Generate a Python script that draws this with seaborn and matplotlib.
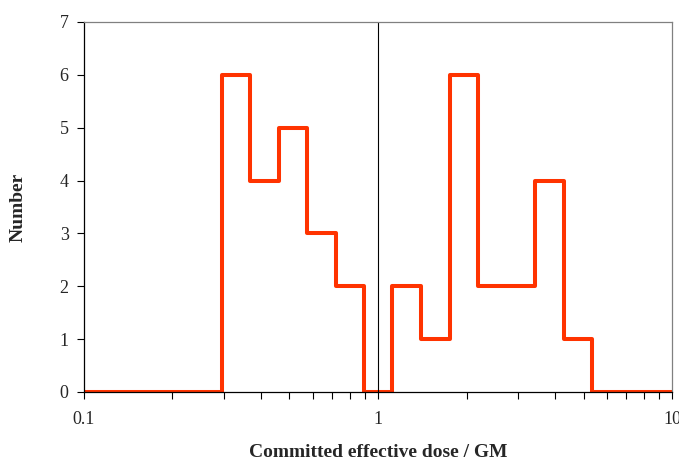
import numpy as np
import matplotlib.pyplot as plt
import matplotlib.ticker as mticker
import seaborn as sns

# bin edges (dose / GM) and counts
edges = [0.2945, 0.368, 0.46, 0.575, 0.719, 0.899, 1.12, 1.40, 1.755, 2.19, 2.74, 3.43, 4.28, 5.35]
counts = [6, 4, 5, 3, 2, 0, 2, 1, 6, 2, 2, 4, 1]
x_min, x_max = 0.1, 10

x_step = [x_min] + edges + [x_max]
y_step = [0] + counts + [0, 0]

sns.set_style("white")
plt.rcParams['font.family'] = ['Liberation Serif', 'DejaVu Serif']

fig = plt.figure(figsize=(6.79, 4.61), dpi=100)
ax = fig.add_axes([0.1237, 0.1497, 0.866, 0.8026])

sns.lineplot(x=x_step, y=y_step, ax=ax, color='#ff3300', linewidth=2.9,
             drawstyle='steps-post', sort=False, estimator=None)
ax.axvline(1, color='black', linewidth=0.8)

ax.set_xscale('log')
ax.set_xlim(x_min, x_max)
ax.set_ylim(0, 7)
ax.set_yticks(range(0, 8))
ax.xaxis.set_major_locator(mticker.FixedLocator([0.1, 1, 10]))
ax.xaxis.set_major_formatter(mticker.FixedFormatter(['0.1', '1', '10']))
ax.xaxis.set_minor_locator(mticker.LogLocator(base=10, subs=np.arange(2, 10)))
ax.xaxis.set_minor_formatter(mticker.NullFormatter())

ax.tick_params(axis='both', which='both', direction='out', length=5, width=0.8,
               color='black', labelsize=13, pad=6)
ax.tick_params(axis='x', which='both', bottom=True, pad=9)
ax.tick_params(axis='y', left=True)

for side in ['left', 'bottom']:
    ax.spines[side].set_color('black')
    ax.spines[side].set_linewidth(0.9)
for side in ['top', 'right']:
    ax.spines[side].set_color('#808080')
    ax.spines[side].set_linewidth(0.9)

ax.set_xlabel('Committed effective dose / GM', fontsize=14, fontweight='bold', labelpad=11)
ax.set_ylabel('Number', fontsize=14, fontweight='bold', labelpad=24)

fig.savefig('out.png', dpi=100)
